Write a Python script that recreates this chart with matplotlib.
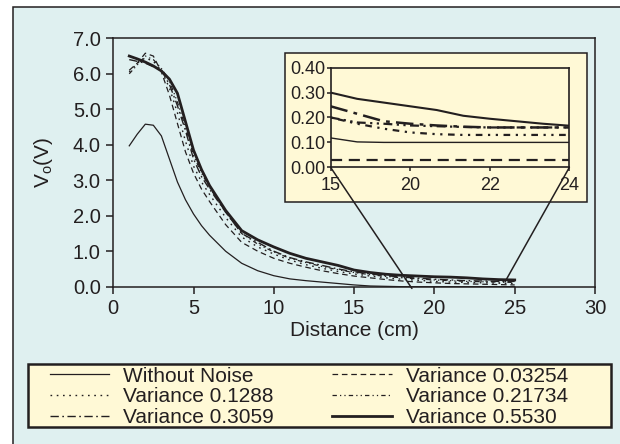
import matplotlib
matplotlib.use("Agg")
import matplotlib.pyplot as plt
from matplotlib.patches import Rectangle, ConnectionPatch

# ---- data ----
dist = [1, 1.5, 2, 2.5, 3, 3.5, 4, 4.5, 5, 5.5, 6, 7, 8, 9, 10, 11, 12, 13,
        14, 15, 16, 17, 18, 19, 20, 21, 22, 23, 24, 25]
no_noise = [3.97, 4.3, 4.58, 4.55, 4.25, 3.6, 2.95, 2.45, 2.05, 1.72, 1.45, 1.0,
            0.66, 0.45, 0.31, 0.22, 0.17, 0.13, 0.09, 0.05, 0.02, 0.01, 0, 0,
            0, 0, 0, 0, 0, 0]
var_03254 = [6.1, 6.3, 6.58, 6.5, 6.05, 5.4, 4.6, 3.8, 3.2, 2.75, 2.4, 1.75,
             1.25, 1.0, 0.8, 0.66, 0.55, 0.45, 0.37, 0.3, 0.25, 0.2, 0.16, 0.13,
             0.11, 0.09, 0.08, 0.07, 0.06, 0.05]
var_1288 = [6.05, 6.3, 6.45, 6.35, 6.1, 5.6, 4.9, 4.1, 3.4, 2.95, 2.6, 1.95,
            1.4, 1.12, 0.92, 0.75, 0.62, 0.52, 0.43, 0.36, 0.3, 0.25, 0.21,
            0.18, 0.15, 0.13, 0.12, 0.11, 0.10, 0.09]
var_21734 = [6.0, 6.25, 6.5, 6.4, 6.15, 5.8, 5.2, 4.5, 3.7, 3.2, 2.8, 2.1,
             1.5, 1.2, 0.98, 0.8, 0.68, 0.57, 0.48, 0.4, 0.34, 0.29, 0.25,
             0.22, 0.19, 0.17, 0.15, 0.14, 0.13, 0.12]
var_3059 = [6.4, 6.35, 6.3, 6.2, 6.1, 5.7, 5.1, 4.4, 3.6, 3.1, 2.75, 2.1,
            1.5, 1.25, 1.0, 0.82, 0.7, 0.6, 0.5, 0.42, 0.36, 0.31, 0.27, 0.24,
            0.21, 0.19, 0.17, 0.16, 0.15, 0.15]
var_5530 = [6.5, 6.42, 6.33, 6.22, 6.08, 5.85, 5.45, 4.65, 3.85, 3.3, 2.85,
            2.15, 1.58, 1.32, 1.12, 0.94, 0.8, 0.7, 0.6, 0.47, 0.4, 0.35, 0.32,
            0.3, 0.28, 0.27, 0.25, 0.22, 0.2, 0.19]

# inset (zoom) data, x positions are evenly spaced categories
inset_x = [15, 16, 17, 18, 19, 20, 21, 22, 23, 24]
inset_ticks = [15, 18, 21, 24]
inset_ticklabels = ["15", "20", "22", "24"]
in_no_noise = [0.118, 0.102, 0.10, 0.10, 0.10, 0.10, 0.10, 0.10, 0.10, 0.10]
in_03254 = [0.03, 0.03, 0.03, 0.03, 0.03, 0.03, 0.03, 0.03, 0.03, 0.03]
in_1288 = [0.20, 0.175, 0.155, 0.14, 0.133, 0.13, 0.13, 0.13, 0.13, 0.13]
in_21734 = [0.20, 0.18, 0.175, 0.168, 0.165, 0.162, 0.16, 0.16, 0.16, 0.16]
in_3059 = [0.245, 0.215, 0.185, 0.175, 0.168, 0.163, 0.16, 0.16, 0.16, 0.16]
in_5530 = [0.30, 0.275, 0.26, 0.245, 0.23, 0.207, 0.195, 0.185, 0.175, 0.167]

labels = ["Without Noise", "Variance 0.03254", "Variance 0.1288",
          "Variance 0.21734", "Variance 0.3059", "Variance 0.5530"]

# ---- styles ----
ink = "#231f20"
blue_bg = "#dff0f0"
cream = "#fff9d6"
W, H = 620, 444

plt.rcParams["font.family"] = ["Liberation Sans", "DejaVu Sans"]
plt.rcParams["mathtext.fontset"] = "custom"
plt.rcParams["mathtext.rm"] = "Liberation Sans"
plt.rcParams["text.color"] = ink
plt.rcParams["axes.labelcolor"] = ink
plt.rcParams["xtick.color"] = ink
plt.rcParams["ytick.color"] = ink

styles = [
    dict(lw=0.9, ls="-"),
    dict(lw=0.9, ls=(0, (4.5, 3))),
    dict(lw=1.0, ls=(0, (1.2, 3.3))),
    dict(lw=0.9, ls=(0, (3.5, 2.5, 1, 2.5, 1, 2.5))),
    dict(lw=1.0, ls=(0, (6, 2.5, 1.2, 2.5))),
    dict(lw=2.0, ls="-"),
]
inset_styles = [
    dict(lw=1.0, ls="-"),
    dict(lw=1.6, ls=(0, (5, 3))),
    dict(lw=1.6, ls=(0, (1, 2.5, 3, 2.5, 1, 2.5))),
    dict(lw=1.6, ls=(0, (4, 2, 1, 2, 1, 2))),
    dict(lw=1.8, ls=(0, (7, 2.5, 1.5, 2.5))),
    dict(lw=1.5, ls="-"),
]


def fx(px):
    return px / W


def fy(py):
    return 1 - py / H


fig = plt.figure(figsize=(W / 100, H / 100), dpi=100, facecolor="white")

# light blue panel with border on left/top
fig.add_artist(Rectangle((fx(12.7), -0.1), 1.2, fy(7.5) + 0.1,
                         transform=fig.transFigure, facecolor=blue_bg,
                         edgecolor=ink, lw=1.1, zorder=0.5))

# ---- main axes ----
ax = fig.add_axes([fx(113.2), fy(286.7), fx(595) - fx(113.2), fy(38.3) - fy(286.7)])
ax.set_zorder(1)
ax.set_facecolor("none")
series = [no_noise, var_03254, var_1288, var_21734, var_3059, var_5530]
handles = []
for ys, st, lab in zip(series, styles, labels):
    ln, = ax.plot(dist, ys, color=ink, label=lab, **st)
    handles.append(ln)
ax.set_xlim(0, 30)
ax.set_ylim(0, 7)
ax.set_xticks([0, 5, 10, 15, 20, 25, 30])
ax.set_yticks(range(8))
ax.set_yticklabels([f"{v:.1f}" for v in range(8)])
ax.tick_params(direction="out", length=5, width=1.1, labelsize=14.5, pad=4)
for sp in ax.spines.values():
    sp.set_linewidth(1.1)
    sp.set_color(ink)
ax.set_xlabel("Distance (cm)", fontsize=15, labelpad=2)
ax.set_ylabel(r"V$_{\rm o}$(V)", fontsize=15, labelpad=13)

# ---- inset ----
fig.add_artist(Rectangle((fx(284.7), fy(202.3)), fx(587.2) - fx(284.7),
                         fy(52.7) - fy(202.3), transform=fig.transFigure,
                         facecolor=cream, edgecolor=ink, lw=1.1, zorder=2))
axi = fig.add_axes([fx(330.6), fy(167.3), fx(569.4) - fx(330.6), fy(67.7) - fy(167.3)])
axi.set_zorder(3)
axi.set_facecolor(cream)
in_series = [in_no_noise, in_03254, in_1288, in_21734, in_3059, in_5530]
for ys, st in zip(in_series, inset_styles):
    axi.plot(inset_x, ys, color=ink, **st)
axi.set_xlim(15, 24)
axi.set_ylim(0, 0.4)
axi.set_xticks(inset_ticks)
axi.set_xticklabels(inset_ticklabels)
axi.set_yticks([0, 0.1, 0.2, 0.3, 0.4])
axi.set_yticklabels(["0.00", "0.10", "0.20", "0.30", "0.40"])
axi.tick_params(direction="out", length=3, width=1.1, labelsize=13, pad=1)
axi.tick_params(axis="x", pad=4)
for sp in axi.spines.values():
    sp.set_linewidth(1.2)
    sp.set_color(ink)

# connector lines from the inset to the zoomed region
for xa, xb, yb in [(0, 18.6, -0.05), (1, 24.4, 0.14)]:
    con = ConnectionPatch(xyA=(xa, 0), coordsA=axi.transAxes,
                          xyB=(xb, yb), coordsB=ax.transData,
                          color=ink, lw=1.1, zorder=4)
    fig.add_artist(con)

# ---- legend ----
fig.add_artist(Rectangle((fx(28.3), fy(426.7)), fx(611) - fx(28.3),
                         fy(364.3) - fy(426.7), transform=fig.transFigure,
                         facecolor=cream, edgecolor=ink, lw=1.8, zorder=5))
order = [0, 2, 4, 1, 3, 5]
leg = fig.legend([handles[i] for i in order], [labels[i] for i in order],
                 ncol=2, loc="upper left",
                 bbox_to_anchor=(fx(50), fy(366.5)),
                 bbox_transform=fig.transFigure, frameon=False,
                 fontsize=15, handlelength=2.85, handletextpad=0.67,
                 columnspacing=2.8, labelspacing=0.09, borderpad=0,
                 borderaxespad=0)
leg.set_zorder(6)

fig.savefig("out.png", dpi=100, facecolor="white")
